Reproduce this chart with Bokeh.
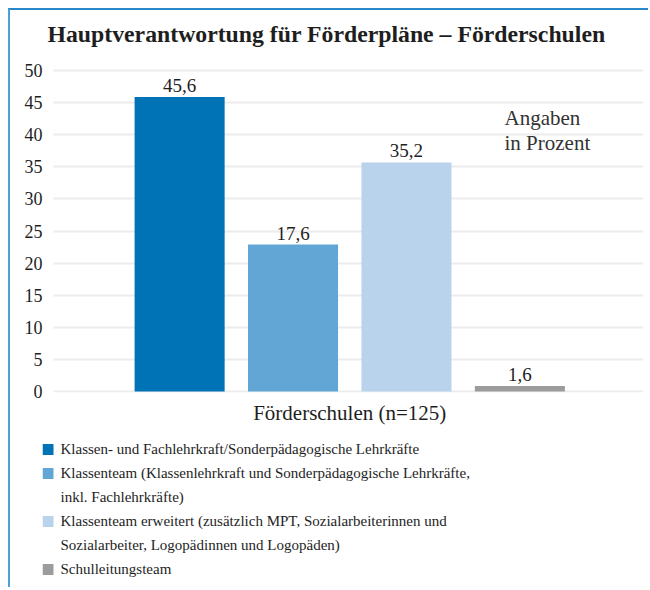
from bokeh.plotting import figure
from bokeh.models import Range1d, FixedTicker, Label
from bokeh.layouts import column
from bokeh.core.properties import value
from bokeh.embed import file_html
from bokeh.resources import INLINE

# ---- data ----
title_text = "Hauptverantwortung für Förderpläne – Förderschulen"
group_label = "Förderschulen (n=125)"
note_lines = ["Angaben", "in Prozent"]
categories = [
    "Klassen- und Fachlehrkraft/Sonderpädagogische Lehrkräfte",
    "Klassenteam (Klassenlehrkraft und Sonderpädagogische Lehrkräfte,\ninkl. Fachlehrkräfte)",
    "Klassenteam erweitert (zusätzlich MPT, Sozialarbeiterinnen und\nSozialarbeiter, Logopädinnen und Logopäden)",
    "Schulleitungsteam",
]
bar_positions = [1, 2, 3, 4]
group_center = 2.5
bar_heights = [45.9, 22.9, 35.7, 0.85]
value_labels = ["45,6", "17,6", "35,2", "1,6"]
colors = ["#0073b7", "#62a6d6", "#b8d3eb", "#9c9c9c"]
y_ticks = [0, 5, 10, 15, 20, 25, 30, 35, 40, 45, 50]

FONT = "Liberation Serif"
TXT = "#1e1e1e"

# ---- chart ----
p1 = figure(width=638, height=422, output_backend="svg", toolbar_location=None,
            x_range=Range1d(-0.209, 5.09), y_range=Range1d(-0.15, 51.73),
            min_border_left=32, min_border_right=5, min_border_top=0, min_border_bottom=40)
p1.outline_line_color = None
p1.background_fill_color = "white"
p1.border_fill_color = "white"

p1.title.text = title_text
p1.title.text_font = FONT
p1.title.text_font_size = "23.75px"
p1.title.text_font_style = "bold"
p1.title.text_color = TXT
p1.title.align = "left"
p1.title.offset = 5
p1.title.vertical_align = "top"
p1.title.standoff = 21

p1.vbar(x=bar_positions, top=bar_heights, width=0.794, fill_color=colors, line_color=None)
p1.text(x=bar_positions, y=bar_heights, text=value_labels, text_align="center",
        text_baseline="bottom", y_offset=-5, text_font=value(FONT),
        text_font_size="19px", text_color=TXT)

p1.yaxis.ticker = FixedTicker(ticks=y_ticks)
p1.yaxis.axis_line_color = None
p1.yaxis.major_tick_line_color = None
p1.yaxis.minor_tick_line_color = None
p1.yaxis.major_tick_out = 0
p1.yaxis.major_label_standoff = 0
p1.yaxis.major_label_text_font = FONT
p1.yaxis.major_label_text_font_size = "18px"
p1.yaxis.major_label_text_color = TXT

p1.xaxis.ticker = FixedTicker(ticks=[group_center])
p1.xaxis.major_label_overrides = {group_center: group_label}
p1.xaxis.axis_line_color = None
p1.xaxis.major_tick_line_color = None
p1.xaxis.minor_tick_line_color = None
p1.xaxis.major_tick_out = 0
p1.xaxis.major_label_standoff = 8
p1.xaxis.major_label_text_font = FONT
p1.xaxis.major_label_text_font_size = "21px"
p1.xaxis.major_label_text_color = TXT

p1.xgrid.grid_line_color = None
p1.ygrid.grid_line_color = "#ececec"
p1.ygrid.grid_line_width = 2
try:
    p1.ygrid.cross_bounds = (-0.112, 5.09)
except Exception:
    pass

for i, line in enumerate(note_lines):
    p1.add_layout(Label(x=462, y=275 - 25 * i, x_units="screen", y_units="screen",
                        text=line, text_font=FONT, text_font_size="21px",
                        text_color="#333333", text_baseline="alphabetic"))

# ---- legend ----
p2 = figure(width=638, height=155, output_backend="svg", toolbar_location=None,
            x_range=Range1d(42, 643), y_range=Range1d(155, 0),
            x_axis_location=None, y_axis_location=None,
            min_border_left=0, min_border_right=0, min_border_top=0, min_border_bottom=0)
p2.grid.visible = False
p2.outline_line_color = None

row_y = 16
row_step = 24
sq_x, sq_y, txt_x, txt_y, txt_s = [], [], [], [], []
sq_colors = []
r = 0
for cat, col in zip(categories, colors):
    lines = cat.split("\n")
    sq_x.append(47.5)
    sq_y.append(row_y + r * row_step + 1)
    sq_colors.append(col)
    for ln in lines:
        txt_x.append(60)
        txt_y.append(row_y + r * row_step)
        txt_s.append(ln)
        r += 1

p2.rect(x=sq_x, y=sq_y, width=11, height=11, fill_color=sq_colors, line_color=None)
p2.text(x=txt_x, y=txt_y, text=txt_s, text_baseline="middle", text_align="left",
        text_font=value(FONT), text_font_size="15px", text_color=TXT)

layout = column(p1, p2, styles={"margin-left": "8px", "margin-top": "8px",
                                "border-left": "2px solid #4d9fd9",
                                "border-top": "2px solid #2a86c8"})

open("out.html", "w").write(file_html(layout, INLINE))
